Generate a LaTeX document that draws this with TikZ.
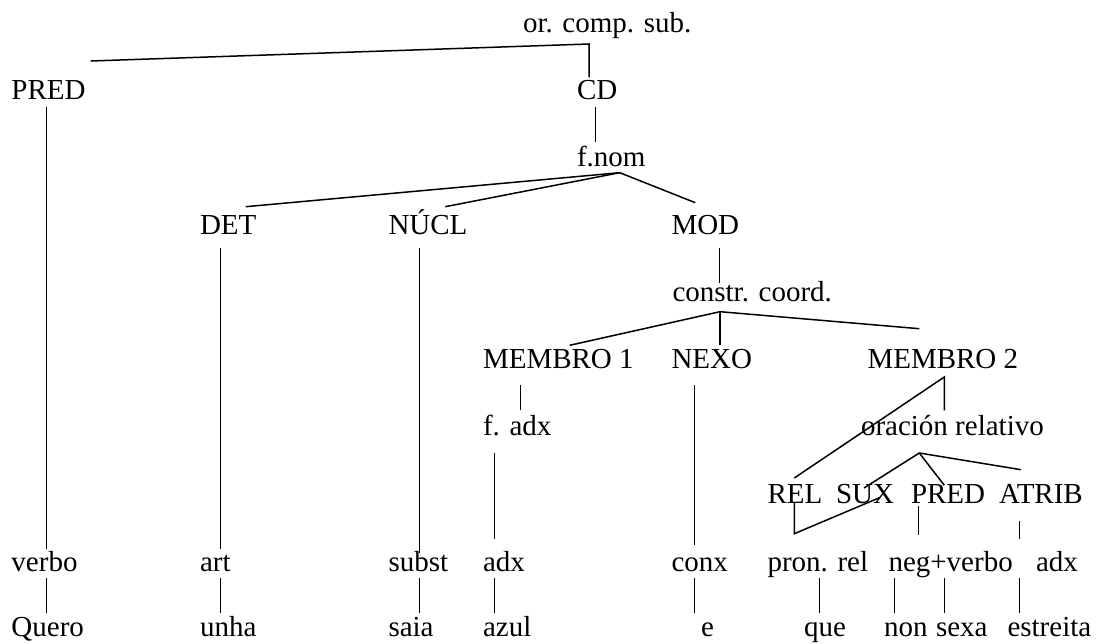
\documentclass[tikz,border=0pt]{standalone}
\usepackage{fontspec}
\setmainfont{Liberation Serif}
\begin{document}
\begin{tikzpicture}[x=1pt,y=-1pt,
  lbl/.style={anchor=base west, inner sep=0pt, outer sep=0pt, font=\fontsize{29}{34}\selectfont},
  edge/.style={line width=1.5pt, line cap=butt, line join=miter}]
\useasboundingbox (0,0) rectangle (1104,644);
% ---- nodes ----
\node[lbl] (root) at (523,32.3) {or. comp. sub.};
\node[lbl] (pred) at (11.5,99.3) {PRED};
\node[lbl] (cd) at (577,99.3) {CD};
\node[lbl] (fnom) at (577,166.5) {f.nom};
\node[lbl] (det) at (200,234.3) {DET};
\node[lbl] (nucl) at (388.5,234.3) {NÚCL};
\node[lbl] (mod) at (671.5,234.3) {MOD};
\node[lbl] (coord) at (672.5,301.5) {constr. coord.};
\node[lbl] (m1) at (483,368.5) {MEMBRO 1};
\node[lbl] (nexo) at (671.5,368.5) {NEXO};
\node[lbl] (m2) at (867.5,368.5) {MEMBRO 2};
\node[lbl] (fadx) at (483,435.5) {f. adx};
\node[lbl] (orel) at (861,435.5) {oración relativo};
\node[lbl] (rel) at (767.5,503.5) {REL};
\node[lbl] (sux) at (836,503.5) {SUX};
\node[lbl] (predb) at (911,503.5) {PRED};
\node[lbl] (atrib) at (999,503.5) {ATRIB};
\node[lbl] (verbo) at (11.5,571.8) {verbo};
\node[lbl] (art) at (200,571.8) {art};
\node[lbl] (subst) at (388.5,571.8) {subst};
\node[lbl] (adxa) at (483,571.8) {adx};
\node[lbl] (conx) at (671.5,571.8) {conx};
\node[lbl] (pronrel) at (767.5,571.8) {pron. rel};
\node[lbl] (negverbo) at (888.5,571.8) {neg+verbo};
\node[lbl] (adxb) at (1036,571.8) {adx};
\node[lbl] (quero) at (11.5,636.5) {Quero};
\node[lbl] (unha) at (200,636.5) {unha};
\node[lbl] (saia) at (388.5,636.5) {saia};
\node[lbl] (azul) at (483,636.5) {azul};
\node[lbl] (e) at (701,636.5) {e};
\node[lbl] (que) at (804,636.5) {que};
\node[lbl] (non) at (884,636.5) {non};
\node[lbl] (sexa) at (936,636.5) {sexa};
\node[lbl] (estreita) at (1007.5,636.5) {estreita};
% ---- connector end points ----
\coordinate (t1) at (90.7,61);
\coordinate (t2) at (589,44);
\coordinate (t3) at (589,77.3);
\coordinate (cdb) at (595.7,107.3);
\coordinate (fnt) at (595.7,141.7);
\coordinate (fna) at (619.7,172.7);
\coordinate (dett) at (245.7,206.7);
\coordinate (nuclt) at (445.3,206.7);
\coordinate (modt) at (695.3,202.7);
\coordinate (predb1) at (46.7,107.3);
\coordinate (predb2) at (46.7,548.7);
\coordinate (detb1) at (220.7,248.3);
\coordinate (detb2) at (220.7,548.7);
\coordinate (nuclb1) at (419.7,248.3);
\coordinate (nuclb2) at (419.7,553);
\coordinate (modb1) at (719.7,248.3);
\coordinate (modb2) at (719.7,282.7);
\coordinate (cca) at (720,311.7);
\coordinate (m1t) at (569.7,345.3);
\coordinate (nexot) at (720,345.3);
\coordinate (m2t) at (919.3,328.7);
\coordinate (m1b1) at (520.7,385.3);
\coordinate (m1b2) at (520.7,410.3);
\coordinate (fab1) at (494.7,452.7);
\coordinate (fab2) at (494.7,538.7);
\coordinate (nxb1) at (694.7,385.3);
\coordinate (nxb2) at (694.7,545.3);
\coordinate (m2a) at (944.3,377);
\coordinate (m2v) at (944.3,410.3);
\coordinate (relt) at (794.3,478);
\coordinate (ora) at (919.3,453);
\coordinate (suxt) at (864,488);
\coordinate (predt) at (944.3,485.3);
\coordinate (atribt) at (1021,469.7);
\coordinate (v1) at (880,497.5);
\coordinate (v2) at (794.3,533.7);
\coordinate (v3) at (794.3,502);
\coordinate (pbb1) at (918.7,506);
\coordinate (pbb2) at (918.7,534.7);
\coordinate (atb1) at (1019.3,521.3);
\coordinate (atb2) at (1019.3,538.7);
% ---- connectors ----
\draw[edge] (t1) -- (t2) -- (t3);
\draw[edge] (cdb) -- (fnt);
\draw[edge] (dett) -- (fna) -- (modt);
\draw[edge] (fna) -- (nuclt);
\draw[edge] (predb1) -- (predb2);
\draw[edge] (detb1) -- (detb2);
\draw[edge] (nuclb1) -- (nuclb2);
\draw[edge] (modb1) -- (modb2);
\draw[edge] (m1t) -- (cca) -- (m2t);
\draw[edge] (cca) -- (nexot);
\draw[edge] (m1b1) -- (m1b2);
\draw[edge] (fab1) -- (fab2);
\draw[edge] (nxb1) -- (nxb2);
\draw[edge] (m2v) -- (m2a) -- (relt);
\draw[edge] (suxt) -- (ora) -- (atribt);
\draw[edge] (ora) -- (predt);
\draw[edge] (v1) -- (v2) -- (v3);
\draw[edge] (pbb1) -- (pbb2);
\draw[edge] (atb1) -- (atb2);
\foreach \x in {46.7,220.7,419.7,494.7,694.7,819.3,894.3,944.3,1019.3}
  \draw[edge] (\x,577.5) -- (\x,612.7);
\end{tikzpicture}
\end{document}
